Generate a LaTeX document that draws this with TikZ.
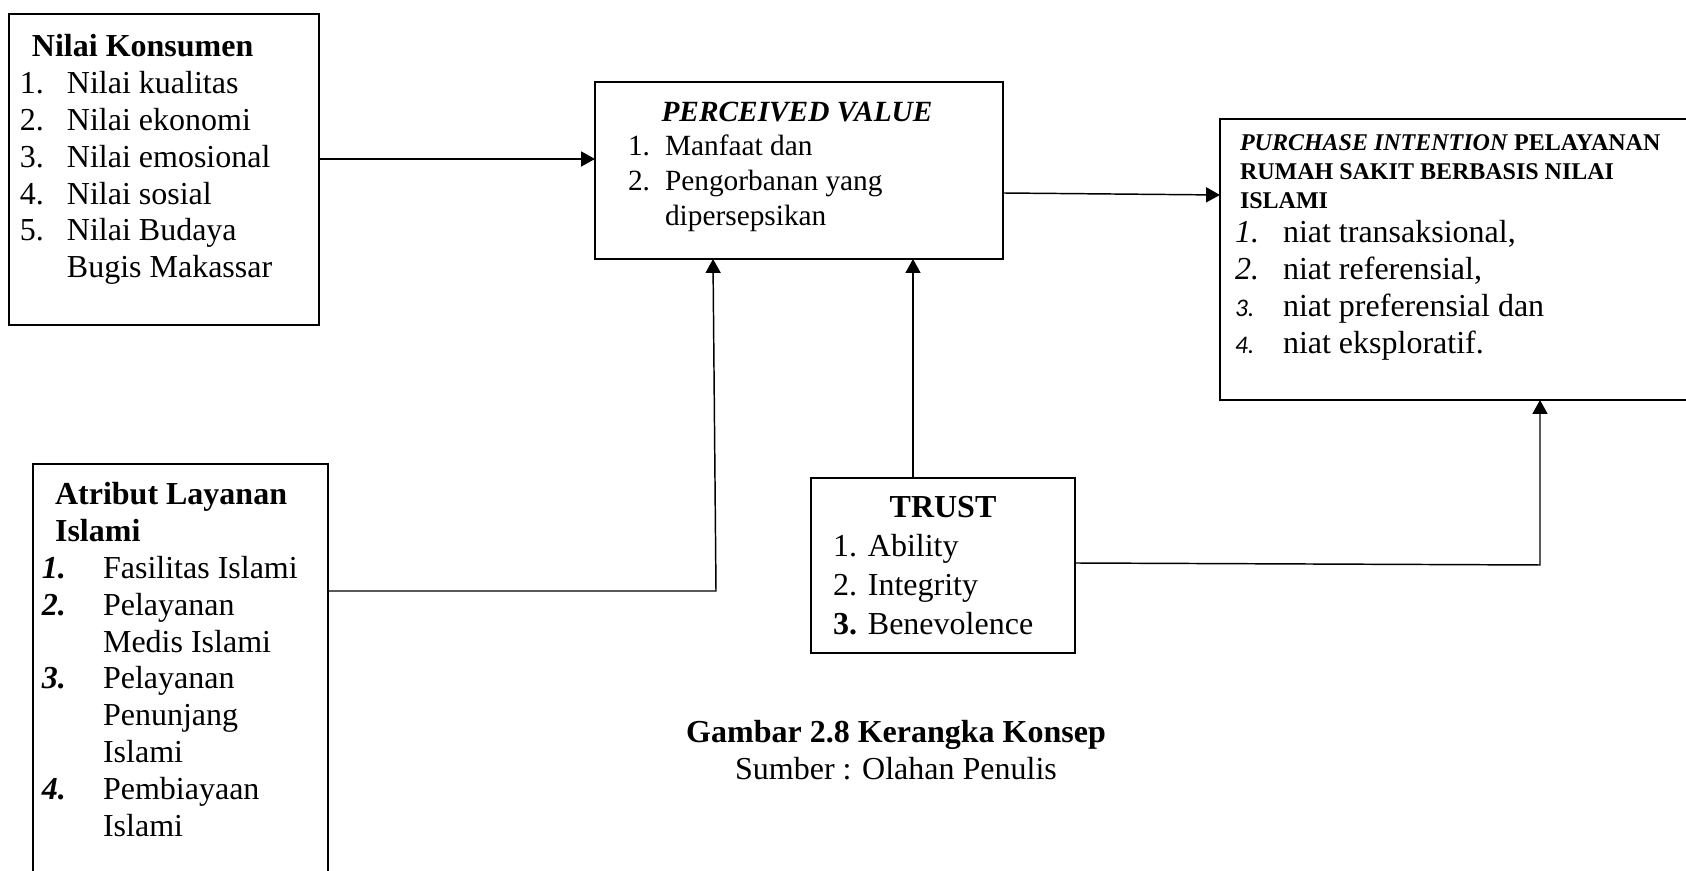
\documentclass[tikz,border=0pt]{standalone}
\usepackage{fontspec}
\setmainfont{Liberation Serif}
\newfontfamily\calfont{Carlito}
\usetikzlibrary{arrows.meta,calc}
\def\PX{0.375pt}
\begin{document}
\begin{tikzpicture}[x=0.375pt, y=-0.375pt,
  box/.style={draw, line width=0.8pt, inner sep=0pt, outer sep=0pt},
  txt/.style={inner sep=0pt, outer sep=0pt, anchor=base west, font=\fontsize{12}{13.8}\selectfont},
  ctxt/.style={inner sep=0pt, outer sep=0pt, anchor=base},
  conn/.style={line width=0.55pt},
  arr/.style={conn, -{Triangle[length=5.2pt,width=5.6pt]}}]
\useasboundingbox (0,0) rectangle (1686,871);
\clip (0,0) rectangle (1686,871);
\fill[white] (0,0) rectangle (1686,871);

% boxes
\node[box, minimum width=310*\PX, minimum height=311*\PX] (nk) at (164,169.5) {};
\node[box, minimum width=408*\PX, minimum height=177*\PX] (pv) at (799,170.5) {};
\node[box, minimum width=470*\PX, minimum height=281*\PX] (pi) at (1455,259.5) {};
\node[box, minimum width=295*\PX, minimum height=426*\PX] (at) at (180.5,677) {};
\node[box, minimum width=264*\PX, minimum height=175*\PX] (tr) at (943,565.5) {};

% Nilai Konsumen
\node[txt] (nkt) at (20,57) {\begin{tabular}[t]{@{}p{17.6pt}@{}l@{}}
\multicolumn{2}{@{\hspace{4.5pt}}l@{}}{\textbf{Nilai Konsumen}}\\
1. & Nilai kualitas\\
2. & Nilai ekonomi\\
3. & Nilai emosional\\
4. & Nilai sosial\\
5. & Nilai Budaya\\
 & Bugis Makassar
\end{tabular}};

% Perceived value
\node[ctxt, font=\fontsize{11}{13}\selectfont\bfseries\itshape] (pvt) at (797,122) {PERCEIVED VALUE};
\node[txt, font=\fontsize{11}{13}\selectfont] (pvl) at (628,156) {\begin{tabular}[t]{@{}p{13.9pt}@{}l@{}}
1. & Manfaat dan\\
2. & Pengorbanan yang\\
 & dipersepsikan
\end{tabular}};

% Purchase intention
\node[txt, font=\fontsize{9}{10.7}\selectfont\bfseries] (pit) at (1240,151) {\begin{tabular}[t]{@{}l@{}}
\textit{PURCHASE INTENTION} PELAYANAN\\
RUMAH SAKIT BERBASIS NILAI\\
ISLAMI
\end{tabular}};
\node[txt] (pil) at (1235,243) {\begin{tabular}[t]{@{}p{18pt}@{}l@{}}
\textit{1.} & niat transaksional,\\
\textit{2.} & niat referensial,\\
{\calfont\itshape\fontsize{9.5}{13.8}\selectfont 3.} & niat preferensial dan\\
{\calfont\itshape\fontsize{9.5}{13.8}\selectfont 4.} & niat eksploratif.
\end{tabular}};

% Atribut layanan
\node[txt] (att) at (42,505) {\begin{tabular}[t]{@{}p{22.9pt}@{}l@{}}
\multicolumn{2}{@{\hspace{4.9pt}}l@{}}{\textbf{Atribut Layanan}}\\
\multicolumn{2}{@{\hspace{4.9pt}}l@{}}{\textbf{Islami}}\\
\textbf{\textit{1.}} & Fasilitas Islami\\
\textbf{\textit{2.}} & Pelayanan\\
 & Medis Islami\\
\textbf{\textit{3.}} & Pelayanan\\
 & Penunjang\\
 & Islami\\
\textbf{\textit{4.}} & Pembiayaan\\
 & Islami
\end{tabular}};

% Trust
\node[ctxt, font=\fontsize{12}{14.6}\selectfont\bfseries] (trt) at (943,518) {TRUST};
\node[txt, font=\fontsize{12}{14.6}\selectfont] (trl) at (833,557) {\begin{tabular}[t]{@{}p{13.1pt}@{}l@{}}
1. & Ability\\
2. & Integrity\\
\textbf{3.} & Benevolence
\end{tabular}};

% caption
\node[ctxt, font=\fontsize{12}{13.8}\selectfont\bfseries] (cap1) at (896,743) {Gambar 2.8 Kerangka Konsep};
\node[ctxt, font=\fontsize{12}{13.8}\selectfont] (cap2) at (896,780) {Sumber : Olahan Penulis};

% connectors
\coordinate (a1) at (716,591);
\coordinate (t1) at (1540,565);
\draw[arr] (nk.east |- 0,159) -- (pv.west |- 0,159);
\draw[arr] (pv.east |- 0,193) -- (pi.west |- 0,195);
\draw[arr] (at.east |- a1) -- (a1) -- (pv.south -| 713,0);
\draw[arr] (tr.north -| 913,0) -- (pv.south -| 913,0);
\draw[arr] (tr.east |- 0,563) -- (t1) -- (pi.south -| t1);
\end{tikzpicture}
\end{document}
